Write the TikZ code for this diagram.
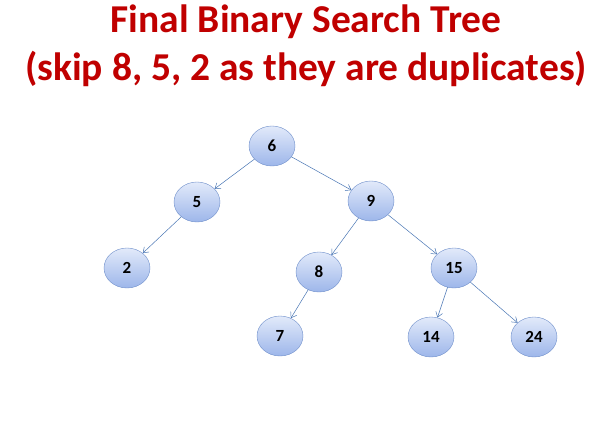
\documentclass[tikz,border=0pt]{standalone}
\usepackage{fontspec}
\setmainfont{Carlito}
\usetikzlibrary{shapes.geometric,arrows.meta}
\definecolor{titlered}{HTML}{C00000}
\definecolor{nodeline}{HTML}{6F8FCA}
\definecolor{nodetop}{HTML}{E2EAFA}
\definecolor{nodebot}{HTML}{9DB6EA}
\definecolor{edgeblue}{HTML}{4A76B4}
\begin{document}
\begin{tikzpicture}[x=1pt,y=-1pt,>={Straight Barb[length=5pt,width=7pt]}, line join=round, line cap=round,
	treenode/.style={ellipse,draw=nodeline,top color=nodetop,bottom color=nodebot,minimum width=46,minimum height=40,inner sep=0pt,font=\fontsize{17}{20}\selectfont\bfseries},
	edge/.style={->,draw=edgeblue,line width=0.5pt}]
	\useasboundingbox (0,0) rectangle (610,431);
	\node[font=\fontsize{39.5}{48}\selectfont\bfseries,text=titlered,align=center,anchor=base] (title) at (306,80)
		{Final Binary Search Tree\\(skip 8, 5, 2 as they are duplicates)};
	\foreach \n/\x/\y in
	{ 6/272/146,
		5/197/202,
		9/371/201,
		2/127/268,
		8/319/272,
		15/454/268,
		7/280/336,
		14/431/337,
		24/534/337
	}
	\node[treenode] (n\n) at (\x,\y) {\n};
	\foreach \a/\b in {6/5,6/9,5/2,9/8,9/15,8/7,15/14,15/24} \draw[edge] (n\a)--(n\b);
\end{tikzpicture}
\end{document}
